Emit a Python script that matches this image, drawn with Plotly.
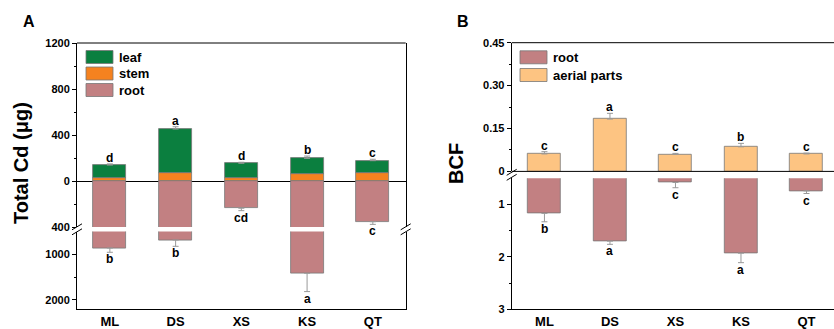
import plotly.graph_objects as go

categories = ["ML", "DS", "XS", "KS", "QT"]

# Panel A: total Cd (ug)
leaf = [116, 385, 125, 139, 110]
leaf_err = [10, 20, 9, 20, 12]
stem = [23, 67, 29, 58, 67]
root = [862, 687, 237, 1416, 354]
root_err = [94, 138, 21, 402, 23]
letters_A_top = ["d", "a", "d", "b", "c"]
letters_A_bot = ["b", "b", "cd", "a", "c"]

# Panel B: BCF
aerial = [0.061, 0.183, 0.060, 0.086, 0.061]
aerial_err = [0.008, 0.020, 0.003, 0.012, 0.003]
root_bcf = [1.17, 1.70, 0.58, 1.93, 0.74]
root_bcf_err = [0.16, 0.06, 0.10, 0.18, 0.05]
letters_B_top = ["c", "a", "c", "b", "c"]
letters_B_bot = ["b", "a", "c", "a", "c"]

W, H = 834, 329
def px(x): return x / W
def py(y): return 1 - y / H

GREEN = "#0B7F3F"
ORANGE = "#F5821F"
ROSE = "#C28082"
PEACH = "#FDC482"
ERR = "#9a9a9a"
FONT = "Liberation Sans"

xi = list(range(len(categories)))
neg_root = [-v for v in root]
neg_root_bcf = [-v for v in root_bcf]

def err(arr, minus=None):
    d = dict(type="data", symmetric=False, color=ERR, thickness=1, width=3)
    if minus is None:
        d.update(array=arr, arrayminus=[0] * len(arr))
    else:
        d.update(array=[0] * len(minus), arrayminus=minus)
    return d

line = dict(color="#777777", width=0.8)
fig = go.Figure()
# Panel A top
fig.add_bar(x=xi, y=neg_root, xaxis="x", yaxis="y", marker=dict(color=ROSE, line=line),
            width=0.5, error_y=err(None, root_err), showlegend=False)
fig.add_bar(x=xi, y=stem, xaxis="x", yaxis="y", marker=dict(color=ORANGE, line=line),
            width=0.5, showlegend=False)
fig.add_bar(x=xi, y=leaf, xaxis="x", yaxis="y", marker=dict(color=GREEN, line=line),
            width=0.5, error_y=err(leaf_err), showlegend=False)
# Panel A bottom
fig.add_bar(x=xi, y=neg_root, xaxis="x", yaxis="y2", marker=dict(color=ROSE, line=line),
            width=0.5, error_y=err(None, root_err), showlegend=False)
# Panel B top
fig.add_bar(x=xi, y=aerial, xaxis="x2", yaxis="y3", marker=dict(color=PEACH, line=line),
            width=0.5, error_y=err(aerial_err), showlegend=False)
# Panel B bottom
fig.add_bar(x=xi, y=neg_root_bcf, xaxis="x2", yaxis="y4", marker=dict(color=ROSE, line=line),
            width=0.5, error_y=err(None, root_bcf_err), showlegend=False)

tickfont = dict(family=FONT, size=11, color="black", weight="bold")
common_y = dict(showline=True, linecolor="black", linewidth=1, ticks="outside", ticklen=4,
                tickcolor="black", showgrid=False, tickfont=tickfont, layer="above traces",
                zeroline=False, automargin=False)
common_x = dict(showline=True, linecolor="black", ticks="", showgrid=False, zeroline=False,
                automargin=False,
                tickfont=dict(family=FONT, size=13, color="black", weight="bold"))

fig.update_layout(
    template="none",
    width=W, height=H, margin=dict(l=0, r=0, t=0, b=0, autoexpand=False),
    plot_bgcolor="white", paper_bgcolor="white",
    barmode="relative", bargap=0,
    xaxis=dict(domain=[px(77), px(405.7)], range=[-0.5, 4.5], anchor="y2",
               tickvals=xi, ticktext=categories, **common_x),
    yaxis=dict(domain=[py(227), py(43)], range=[-400, 1200], anchor="x", mirror=True,
               tickmode="array", tickvals=[1200, 800, 400, 0, -400],
               ticktext=["1200", "800", "400", "0", "400"],
               minor=dict(tickvals=[1000, 600, 200, -200], ticklen=2, ticks="outside",
                          tickcolor="black"),
               **{**common_y, "zeroline": True, "zerolinecolor": "black", "zerolinewidth": 1}),
    yaxis2=dict(domain=[py(309), py(231.5)], range=[-2200, -500], anchor="x", mirror=True,
                tickmode="array", tickvals=[-1000, -2000], ticktext=["1000", "2000"],
                minor=dict(tickvals=[-1500], ticklen=2, ticks="outside", tickcolor="black"),
                **common_y),
    xaxis2=dict(domain=[px(511.7), 1.0], range=[-0.5, 4.42], anchor="y4",
                tickvals=xi, ticktext=categories, **common_x),
    yaxis3=dict(domain=[py(171.4), py(42.7)], range=[0, 0.45], anchor="x2",
                tickmode="array", tickvals=[0, 0.15, 0.30, 0.45],
                ticktext=["0", "0.15", "0.30", "0.45"],
                minor=dict(tickvals=[0.075, 0.225, 0.375], ticklen=2, ticks="outside",
                           tickcolor="black"),
                **common_y),
    yaxis4=dict(domain=[py(309.3), py(178.3)], range=[-3, -0.5], anchor="x2",
                tickmode="array", tickvals=[-1, -2, -3], ticktext=["1", "2", "3"],
                minor=dict(tickvals=[-1.5, -2.5], ticklen=2, ticks="outside", tickcolor="black"),
                **common_y),
)

shapes = []
# top frame lines
shapes.append(dict(type="line", xref="paper", yref="paper", x0=px(77), x1=px(405.7),
                   y0=py(43), y1=py(43), line=dict(color="black", width=1)))
shapes.append(dict(type="line", xref="paper", yref="paper", x0=px(511.7), x1=1.0,
                   y0=py(42.7), y1=py(42.7), line=dict(color="black", width=1)))
# zero line panel B across
shapes.append(dict(type="line", xref="paper", yref="paper", x0=px(511.7), x1=1.0,
                   y0=py(171.4), y1=py(171.4), line=dict(color="black", width=1)))
# break marks
def brk(xc, yc):
    for dy in (-2.5, 2.5):
        shapes.append(dict(type="line", xref="paper", yref="paper",
                           x0=px(xc - 5), x1=px(xc + 5), y0=py(yc + dy + 3), y1=py(yc + dy - 3),
                           line=dict(color="black", width=1)))
brk(77, 229.3)
brk(405.7, 229.3)
brk(511.7, 174.8)

# custom legends
annotations = []
def legend_item(x, y, color, label):
    shapes.append(dict(type="rect", xref="paper", yref="paper", x0=px(x), x1=px(x + 27),
                       y0=py(y + 6.5), y1=py(y - 6.5), fillcolor=color,
                       line=dict(color="#777777", width=0.8)))
    annotations.append(dict(xref="paper", yref="paper", x=px(x + 31), y=py(y), text=label,
                            showarrow=False, xanchor="left", yanchor="middle",
                            font=dict(family=FONT, size=13, color="black", weight="bold")))
legend_item(86, 57, GREEN, "leaf")
legend_item(86, 73.5, ORANGE, "stem")
legend_item(86, 90, ROSE, "root")
legend_item(520, 57.3, ROSE, "root")
legend_item(520, 75, PEACH, "aerial parts")

lfont = dict(family=FONT, size=12, color="black", weight="bold")
for i in xi:
    annotations.append(dict(x=i, y=leaf[i] + stem[i] + leaf_err[i], xref="x", yref="y",
                            text=letters_A_top[i], showarrow=False, yanchor="bottom",
                            yshift=-3, font=lfont))
    v = -(root[i] + root_err[i])
    annotations.append(dict(x=i, y=v, xref="x", yref="y" if v >= -400 else "y2",
                            text=letters_A_bot[i], showarrow=False, yanchor="top",
                            yshift=2, font=lfont))
    annotations.append(dict(x=i, y=aerial[i] + aerial_err[i], xref="x2", yref="y3",
                            text=letters_B_top[i], showarrow=False, yanchor="bottom",
                            yshift=-3, font=lfont))
    annotations.append(dict(x=i, y=-(root_bcf[i] + root_bcf_err[i]), xref="x2", yref="y4",
                            text=letters_B_bot[i], showarrow=False, yanchor="top",
                            yshift=2, font=lfont))

# titles
annotations.append(dict(xref="paper", yref="paper", x=px(21), y=py(163), text="Total Cd (μg)",
                        textangle=-90, showarrow=False, xanchor="center", yanchor="middle",
                        font=dict(family=FONT, size=20, color="black", weight="bold")))
annotations.append(dict(xref="paper", yref="paper", x=px(456), y=py(164), text="BCF",
                        textangle=-90, showarrow=False, xanchor="center", yanchor="middle",
                        font=dict(family=FONT, size=20, color="black", weight="bold")))
annotations.append(dict(xref="paper", yref="paper", x=px(29), y=py(22), text="A",
                        showarrow=False, xanchor="center", yanchor="middle",
                        font=dict(family=FONT, size=16, color="black", weight="bold")))
annotations.append(dict(xref="paper", yref="paper", x=px(463), y=py(22), text="B",
                        showarrow=False, xanchor="center", yanchor="middle",
                        font=dict(family=FONT, size=16, color="black", weight="bold")))

fig.update_layout(shapes=shapes, annotations=annotations)
fig.write_html("out.html")
